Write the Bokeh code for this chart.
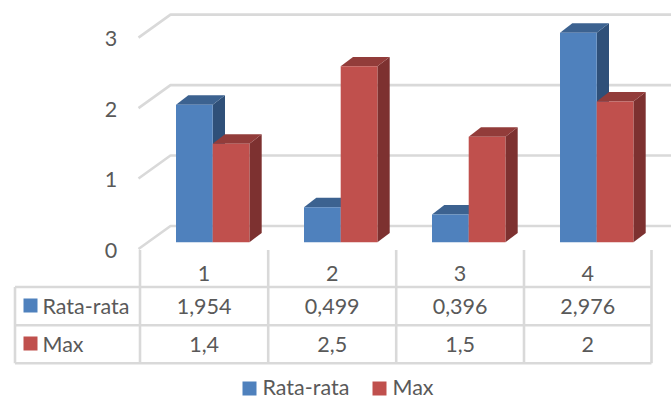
from bokeh.embed import file_html
from bokeh.models import Range1d
from bokeh.plotting import figure
from bokeh.resources import INLINE
from bokeh.core.properties import value

# Chart data
categories = [1, 2, 3, 4]
series_names = ["Rata-rata", "Max"]
rata_rata = [1.954, 0.499, 0.396, 2.976]
maks = [1.4, 2.5, 1.5, 2]
rata_rata_labels = ["1,954", "0,499", "0,396", "2,976"]
maks_labels = ["1,4", "2,5", "1,5", "2"]
y_ticks = [0, 1, 2, 3]

W, H = 671, 398
FONT = value("Lato")
TEXT = "#595959"
GRID = "#D9D9D9"
FONT_PX = 21.5

# Layout in pixels
X_UNIT, Y_UNIT = 128.0, 70.45      # pixels per category / per value
X_ORIGIN, Y_ORIGIN = 212.2, 241.8  # pixel of category 1 / value 0
BAR_W = 36.7 / X_UNIT
BAR_DX, BAR_DY = 12.3 / X_UNIT, 9.3 / Y_UNIT
WALL_X0, WALL_X1 = 170.0, 671.0
WALL_FRONT_X = 138.0
WALL_BACK_DY = (Y_ORIGIN - 225.5) / Y_UNIT
WALL_FRONT_DY = (Y_ORIGIN - 248.5) / Y_UNIT
COL_X = [139.5, 267.7, 395.7, 523.5, 651.0]
ROW_Y = [286.5, 324.7, 362.7]
TABLE_LEFT = 14.5

p = figure(
    width=W, height=H, output_backend="svg", toolbar_location=None,
    x_range=Range1d(1 - X_ORIGIN / X_UNIT, 1 + (W - X_ORIGIN) / X_UNIT),
    y_range=Range1d(-(H - Y_ORIGIN) / Y_UNIT, Y_ORIGIN / Y_UNIT),
    min_border=0, min_border_left=0, min_border_right=0,
    min_border_top=0, min_border_bottom=0,
)
p.axis.visible = False
p.grid.visible = False
p.outline_line_color = None
p.background_fill_color = "white"
p.border_fill_color = "white"
p.extra_x_ranges["px"] = Range1d(0, W)
p.extra_y_ranges["px"] = Range1d(H, 0)


def px_text(x, y, txt, align="center"):
    p.text([x], [y], text=[txt], x_range_name="px", y_range_name="px",
           text_font=FONT, text_font_size=f"{FONT_PX}px", text_color=TEXT,
           text_align=align, text_baseline="middle")


def px_line(xs, ys, width=2.6):
    p.line(xs, ys, x_range_name="px", y_range_name="px",
           line_color=GRID, line_width=width)


# Back wall gridlines with their slanted side-wall segments
for t in y_ticks:
    back = t + WALL_BACK_DY
    front = t + WALL_FRONT_DY
    xa = 1 + (WALL_FRONT_X - X_ORIGIN) / X_UNIT
    xb = 1 + (WALL_X0 - X_ORIGIN) / X_UNIT
    xc = 1 + (WALL_X1 - X_ORIGIN) / X_UNIT
    p.line([xa, xb, xc], [front, back, back], line_color=GRID, line_width=2.6)
    px_text(110.5, Y_ORIGIN - t * Y_UNIT + 8, str(t))


def bar_3d(x0, v, front, top, side):
    x1 = x0 + BAR_W
    p.patch([x1, x1, x1 + BAR_DX, x1 + BAR_DX], [0, v, v + BAR_DY, BAR_DY],
            fill_color=side, line_color=None)
    p.patch([x0, x1, x1 + BAR_DX, x0 + BAR_DX], [v, v, v + BAR_DY, v + BAR_DY],
            fill_color=top, line_color=None)
    p.patch([x0, x1, x1, x0], [0, 0, v, v], fill_color=front, line_color=None)


for c, a, b in zip(categories, rata_rata, maks):
    bar_3d(c - BAR_W, a, "#4F81BD", "#3C6290", "#2F5079")
    bar_3d(c, b, "#C0504D", "#923C3A", "#7D3130")

# Data table
for x in COL_X:
    px_line([x, x], [249.5, ROW_Y[-1]])
for y in ROW_Y:
    px_line([TABLE_LEFT, COL_X[-1]], [y, y])
px_line([TABLE_LEFT, TABLE_LEFT], [ROW_Y[0], ROW_Y[-1]])

rows = [rata_rata_labels, maks_labels]
colors = ["#4F81BD", "#C0504D"]
for i, c in enumerate(categories):
    cx = (COL_X[i] + COL_X[i + 1]) / 2
    px_text(cx, 272.5, str(c))
    px_text(cx, 306, rows[0][i])
    px_text(cx, 344, rows[1][i])

for name, color, yc in zip(series_names, colors, [305, 343]):
    p.rect([30], [yc], width=14, height=14, x_range_name="px", y_range_name="px",
           fill_color=color, line_color=None)
    px_text(42, yc + 0.5, name, "left")

# Legend below the table
for name, color, sx, tx in zip(series_names, colors, [249, 379], [262, 392]):
    p.rect([sx], [388], width=14, height=14, x_range_name="px", y_range_name="px",
           fill_color=color, line_color=None)
    px_text(tx, 386, name, "left")

open("out.html", "w").write(file_html(p, INLINE))
